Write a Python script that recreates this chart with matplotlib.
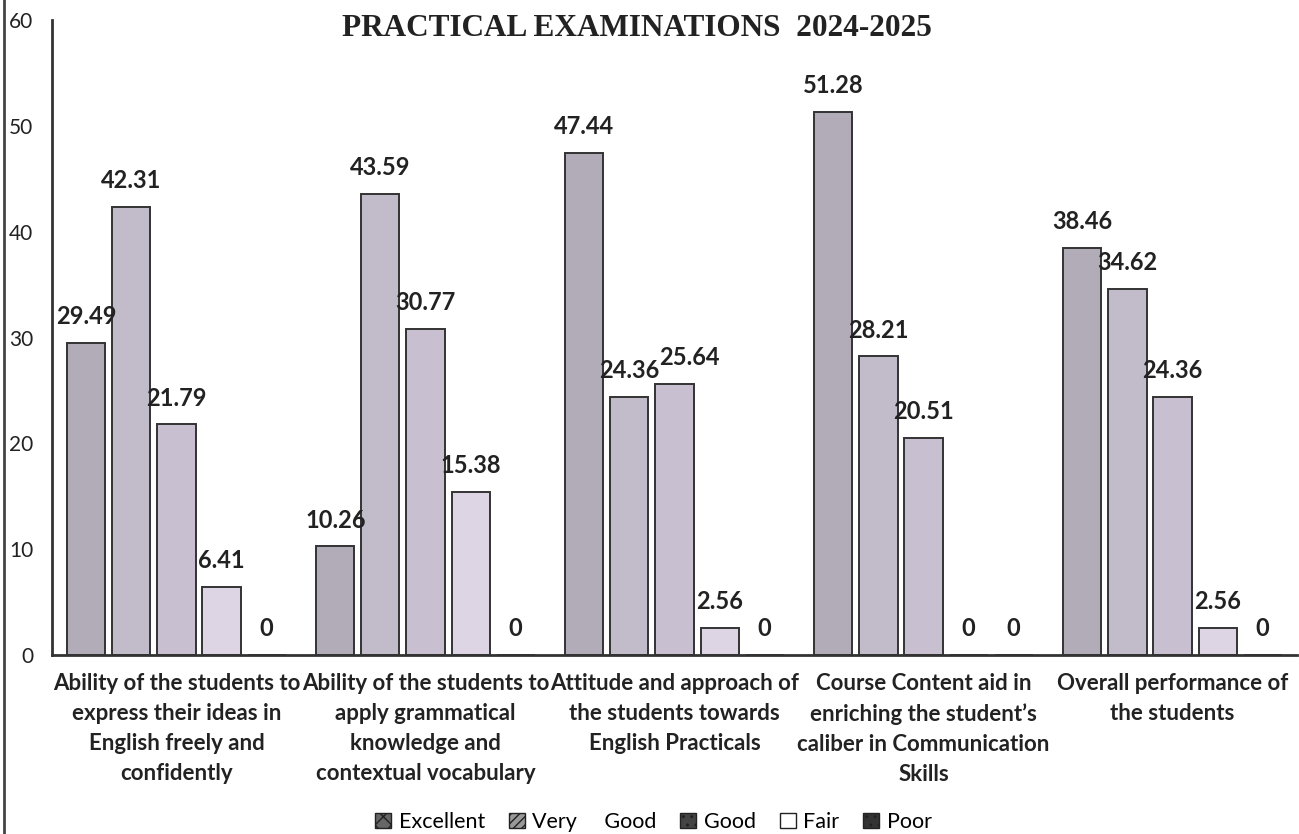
import matplotlib
matplotlib.use("Agg")
import matplotlib.pyplot as plt
import numpy as np
from matplotlib.patches import Patch
from matplotlib.lines import Line2D

# survey results (percent of students)
categories = [
    "Ability of the students to\nexpress their ideas in\nEnglish freely and\nconfidently",
    "Ability of the students to\napply grammatical\nknowledge and\ncontextual vocabulary",
    "Attitude and approach of\nthe students towards\nEnglish Practicals",
    "Course Content aid in\nenriching the student\u2019s\ncaliber in Communication\nSkills",
    "Overall performance of\nthe students",
]
series_names = ["Excellent", "Very     Good", "Good", "Fair", "Poor"]
excellent = [29.49, 10.26, 47.44, 51.28, 38.46]
very_good = [42.31, 43.59, 24.36, 28.21, 34.62]
good = [21.79, 30.77, 25.64, 20.51, 24.36]
fair = [6.41, 15.38, 2.56, 0, 2.56]
poor = [0, 0, 0, 0, 0]
yticks = [0, 10, 20, 30, 40, 50, 60]

series = [excellent, very_good, good, fair, poor]
bar_colors = ["#b2acb9", "#c2bbc9", "#c8c0d0", "#ddd5e4", "#e6e0ec"]

plt.rcParams['font.family'] = ['Lato', 'DejaVu Sans']

fig = plt.figure(figsize=(12.99, 8.34), dpi=100)
ax = fig.add_axes([0.040, 0.2146, 0.9585, 0.7614])

x = np.arange(len(categories))
step = 0.181
width = 0.153
for j, vals in enumerate(series):
    pos = x + (j - 2) * step
    ax.bar(pos, vals, width=width, color=bar_colors[j], edgecolor="#333333",
           linewidth=1.4, zorder=2)

# value labels; nudge a label right when its neighbour sits at nearly the same height
for j, vals in enumerate(series):
    pos = x + (j - 2) * step
    for i, (px, v) in enumerate(zip(pos, vals)):
        txt = "0" if v == 0 else "%.2f" % v
        dx = 0
        if j > 0 and v != 0 and series[j - 1][i] != 0 and abs(v - series[j - 1][i]) < 2.5:
            dx = 11
        ax.annotate(txt, (px, v), xytext=(dx, 19), textcoords="offset points",
                    ha="center", va="center", fontsize=17, fontweight="bold",
                    color="#222222", zorder=3)

ax.set_xlim(-0.5, 4.5)
ax.set_ylim(0, 60)
ax.set_yticks(yticks)
ax.tick_params(axis="y", length=0, pad=13.5, labelsize=15, labelcolor="#222222")
ax.tick_params(axis="x", length=0, pad=13)
ax.set_xticks(x)
ax.set_xticklabels(categories, fontsize=16, fontweight="bold", color="#222222",
                   linespacing=1.52)

for s in ["top", "right"]:
    ax.spines[s].set_visible(False)
ax.spines["left"].set_linewidth(2)
ax.spines["bottom"].set_linewidth(2)
ax.spines["left"].set_color("#333333")
ax.spines["bottom"].set_color("#333333")

fig.text(0.49, 0.966, "PRACTICAL EXAMINATIONS  2024-2025", ha="center", va="center",
         fontsize=22.5, fontweight="bold", family="Liberation Serif", color="#222222")

# legend with small patterned squares like the scan
handles = [
    Patch(facecolor="#666666", edgecolor="#222222", hatch="xx"),
    Patch(facecolor="#999999", edgecolor="#222222", hatch="////"),
    Patch(facecolor="#444444", edgecolor="#222222", hatch=".."),
    Patch(facecolor="white", edgecolor="#222222"),
    Patch(facecolor="#333333", edgecolor="#222222", hatch=".."),
]
fig.legend(handles, series_names, loc="center", bbox_to_anchor=(0.503, 0.0144),
           ncol=5, frameon=False, fontsize=15.5, handlelength=0.75, handleheight=0.75,
           handletextpad=0.35, columnspacing=1.1)

# scanner edge on the left
fig.add_artist(Line2D([0.003, 0.003], [0, 1], color="#444444", linewidth=2))

plt.savefig("out.png", dpi=100)
